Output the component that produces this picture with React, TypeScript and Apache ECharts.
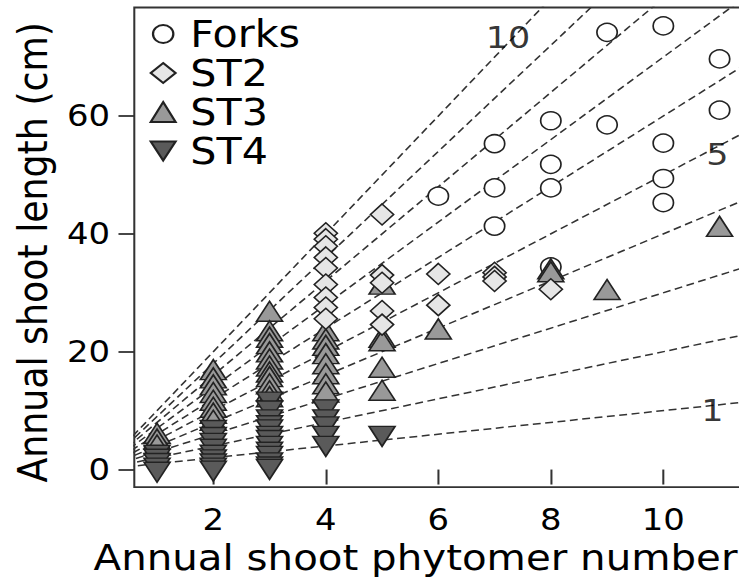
import React, { useEffect, useRef } from "react";
import * as echarts from "echarts";

// The reference figure is stretched horizontally; we draw at natural size and stretch the div.
const STRETCH = 1.13;

// ---- data ----
const forksX = [6, 7, 7, 7, 8, 8, 8, 8, 9, 9, 10, 10, 10, 10, 11, 11];
const forksY = [46.4, 55.3, 47.8, 41.3, 59.2, 51.8, 47.8, 34.4, 74.2, 58.5, 75.3, 55.4, 49.4, 45.3, 69.7, 61.0];

const st2X = [4, 4, 4, 4, 4, 4, 4, 4, 4, 5, 5, 5, 5, 5, 6, 6, 7, 7, 7, 8];
const st2Y = [40.1, 39.1, 37.9, 36.0, 34.2, 31.4, 29.2, 27.5, 25.6, 43.3, 33.0, 31.7, 26.9, 24.6, 33.2, 27.9, 33.4, 32.7, 32.0, 30.6];

const st3X = [
  1, 1, 1,
  2, 2, 2, 2, 2, 2, 2, 2,
  3, 3, 3, 3, 3, 3, 3, 3, 3, 3, 3, 3,
  4, 4, 4, 4, 4, 4, 4, 4,
  5, 5, 5, 5, 5,
  6, 8, 8, 9, 11,
];
const st3Y = [
  5.6, 4.6, 3.6,
  16.4, 15.0, 13.8, 12.5, 11.2, 10.0, 9.0, 7.8,
  26.3, 23.0, 21.9, 20.8, 19.4, 18.2, 17.0, 16.0, 15.2, 14.0, 12.8, 11.8,
  23.0, 21.6, 20.5, 19.1, 17.4, 15.7, 14.0, 12.6,
  30.9, 21.9, 21.3, 16.8, 12.9,
  23.3, 33.5, 33.0, 30.0, 40.7,
];

const st4X = [
  1, 1, 1, 1, 1,
  2, 2, 2, 2, 2, 2, 2, 2, 2,
  3, 3, 3, 3, 3, 3, 3, 3, 3, 3, 3, 3, 3,
  4, 4, 4, 4, 4,
  5,
];
const st4Y = [
  3.0, 2.3, 1.6, 0.8, 0.1,
  7.2, 6.0, 5.0, 4.0, 3.0, 2.2, 1.5, 0.8, 0.3,
  12.0, 10.5, 9.0, 8.0, 7.3, 6.2, 5.5, 4.5, 3.5, 2.8, 1.7, 1.0, 0.6,
  10.7, 9.0, 7.8, 6.2, 4.5,
  6.2,
];

// reference lines: length = k * phytomer number
const slopes = [1, 2, 3, 4, 5, 6, 7, 8, 9, 10];
const lineLabelText = ["10", "5", "1"];
const lineLabelX = [7.24, 10.96, 10.87];
const lineLabelY = [73.4, 53.6, 10.15];

const xTicks = [2, 4, 6, 8, 10];
const yTicks = [0, 20, 40, 60];

const FONT = "DejaVu Sans";
const zip = (xs: number[], ys: number[]) => xs.map((x, i) => [x, ys[i]]);

const TRI_H = 20;
const downTri = "path://M0,0L23,0L11.5,20Z";
const circleIcon = "path://M0,0M22,20M20,10A9,9,0,1,1,2,10A9,9,0,1,1,20,10Z";

const markerStroke = { borderColor: "#222", borderWidth: 1.5, opacity: 1 };

function buildOption(): any {
  const lineSeries = slopes.map((k) => ({
    type: "line",
    data: [
      [0, 0],
      [12, 12 * k],
    ],
    symbol: "none",
    silent: true,
    clip: true,
    z: 1,
    lineStyle: { color: "#333", width: 1.5, type: [7, 4] },
    emphasis: { disabled: true },
  }));

  return {
    animation: false,
    backgroundColor: "#fff",
    textStyle: { fontFamily: FONT },
    grid: {
      left: 118.85,
      top: 7.5,
      right: 2,
      bottom: 90,
      show: true,
      borderColor: "#333",
      borderWidth: 1.8,
      backgroundColor: "transparent",
    },
    xAxis: {
      type: "value",
      min: 0.5956,
      max: 11.426,
      splitLine: { show: false },
      axisLine: { show: false },
      axisTick: {
        show: true,
        customValues: xTicks,
        length: 15,
        lineStyle: { color: "#333", width: 1.8 },
      },
      axisLabel: {
        customValues: xTicks,
        fontSize: 30,
        color: "#000",
        margin: 18,
        fontFamily: FONT,
      },
      name: "Annual shoot phytomer number",
      nameLocation: "middle",
      nameGap: 49.4,
      nameTextStyle: {
        fontSize: 35.7,
        color: "#000",
        fontFamily: FONT,
        padding: [0, 41.4, 0, 0],
      },
    },
    yAxis: {
      type: "value",
      min: -2.98,
      max: 78.42,
      splitLine: { show: false },
      axisLine: { show: false },
      axisTick: {
        show: true,
        customValues: yTicks,
        length: 14,
        lineStyle: { color: "#333", width: 1.8 },
      },
      axisLabel: {
        customValues: yTicks,
        fontSize: 30,
        color: "#000",
        margin: 21.5,
        fontFamily: FONT,
      },
      name: "Annual shoot length (cm)",
      nameLocation: "middle",
      nameGap: 71.5,
      nameTextStyle: {
        fontSize: 36.3,
        color: "#000",
        fontFamily: FONT,
        padding: [0, 10, 0, 0],
      },
    },
    legend: {
      data: [
        { name: "Forks", icon: circleIcon },
        { name: "ST2" },
        { name: "ST3" },
        { name: "ST4" },
      ],
      orient: "vertical",
      left: 132.4,
      top: 14.5,
      padding: 0,
      itemGap: 0,
      itemWidth: 22,
      itemHeight: 20,
      selectedMode: false,
      textStyle: {
        fontSize: 36.5,
        color: "#000",
        lineHeight: 39,
        padding: [0, 0, 0, 8],
        fontFamily: FONT,
      },
    },
    series: [
      ...lineSeries,
      {
        name: "Forks",
        type: "scatter",
        data: zip(forksX, forksY),
        symbol: "circle",
        symbolSize: 18,
        z: 3,
        itemStyle: { color: "#ffffff", ...markerStroke },
        emphasis: { disabled: true },
      },
      {
        name: "ST3",
        type: "scatter",
        data: zip(st3X, st3Y),
        symbol: "triangle",
        symbolSize: [23, TRI_H],
        symbolOffset: [0, -TRI_H / 6],
        z: 3,
        itemStyle: { color: "#999999", ...markerStroke },
        emphasis: { disabled: true },
      },
      {
        name: "ST4",
        type: "scatter",
        data: zip(st4X, st4Y),
        symbol: downTri,
        symbolSize: [23, TRI_H],
        symbolOffset: [0, TRI_H / 6],
        z: 3,
        itemStyle: { color: "#5a5a5a", ...markerStroke },
        emphasis: { disabled: true },
      },
      {
        name: "ST2",
        type: "scatter",
        data: zip(st2X, st2Y),
        symbol: "diamond",
        symbolSize: [20.5, 21],
        z: 3,
        itemStyle: { color: "#e6e6e6", ...markerStroke },
        emphasis: { disabled: true },
      },
      {
        type: "scatter",
        data: lineLabelText.map((t, i) => ({ name: t, value: [lineLabelX[i], lineLabelY[i]] })),
        symbolSize: 1,
        silent: true,
        z: 4,
        itemStyle: { color: "rgba(0,0,0,0)" },
        label: {
          show: true,
          position: "inside",
          formatter: "{b}",
          fontSize: 31,
          color: "#000",
          fontFamily: FONT,
        },
      },
    ],
  };
}

export default function App() {
  const ref = useRef<HTMLDivElement>(null);
  useEffect(() => {
    if (!ref.current) return;
    const chart = echarts.init(ref.current, null, { renderer: "svg" });
    chart.setOption(buildOption());
    return () => chart.dispose();
  }, []);
  return (
    <div
      style={{
        position: "fixed",
        left: 0,
        top: 0,
        width: 739,
        height: 581,
        overflow: "hidden",
        background: "#fff",
      }}
    >
      <div
        ref={ref}
        style={{
          width: 660,
          height: 581,
          transform: `scaleX(${STRETCH})`,
          transformOrigin: "0 0",
        }}
      />
    </div>
  );
}
